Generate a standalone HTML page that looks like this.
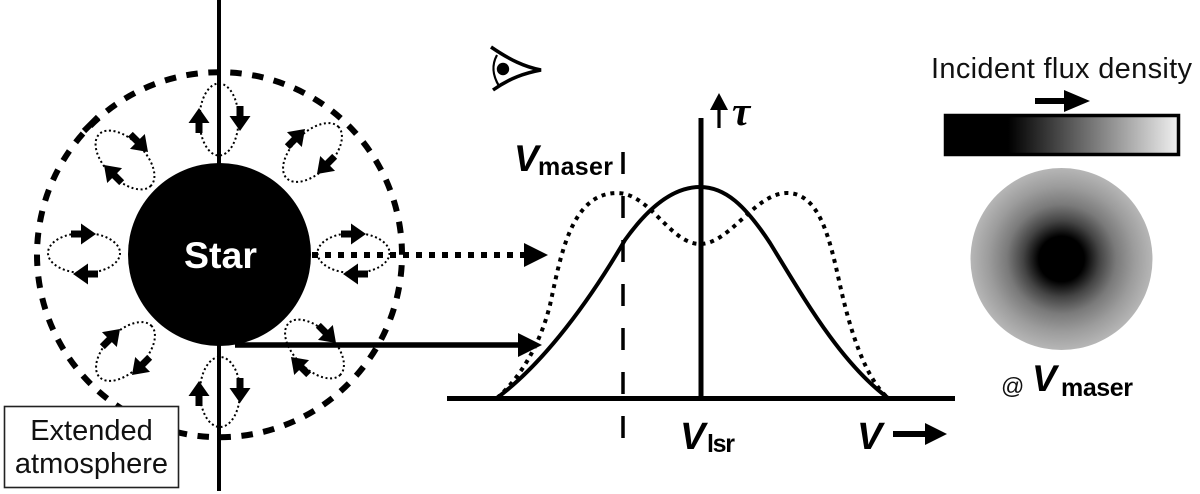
<!DOCTYPE html>
<html><head><meta charset="utf-8"><style>
html,body{margin:0;padding:0;background:#fff;width:1200px;height:494px;overflow:hidden}
svg{display:block}
text{font-family:"Liberation Sans",sans-serif}
.b{font-weight:bold}
.v{font-weight:bold;font-style:italic;font-size:38px}
.s{font-weight:bold;font-size:25px}
.loop{fill:none;stroke:#000;stroke-width:2;stroke-dasharray:2 2.6}
</style></head><body>
<svg width="1200" height="494" viewBox="0 0 1200 494" xmlns="http://www.w3.org/2000/svg">
<defs>
<polygon id="a" points="-25,-3.5 -15,-3.5 -15,-10.5 0,0 -15,10.5 -15,3.5 -25,3.5" fill="#000"/>
<radialGradient id="disc" gradientUnits="userSpaceOnUse" cx="1061.5" cy="259" r="91">
<stop offset="0" stop-color="#000"/><stop offset=".25" stop-color="#000"/><stop offset=".42" stop-color="#444"/><stop offset=".6" stop-color="#7a7a7a"/><stop offset=".8" stop-color="#9c9c9c"/><stop offset="1" stop-color="#b6b6b6"/>
</radialGradient>
<linearGradient id="bar" gradientUnits="userSpaceOnUse" x1="1008" y1="0" x2="1178" y2="0">
<stop offset="0" stop-color="#000"/><stop offset="1" stop-color="#efefef"/>
</linearGradient>
</defs>

<circle cx="219.5" cy="254.7" r="182.5" fill="none" stroke="#000" stroke-width="6" stroke-dasharray="11.5 10.55" stroke-dashoffset="-10.5"/>
<line x1="84" y1="131" x2="98" y2="117" stroke="#000" stroke-width="6"/>
<line x1="219" y1="0" x2="219" y2="491" stroke="#000" stroke-width="4"/>
<circle cx="219.5" cy="254.5" r="91.5" fill="#000"/>

<ellipse class="loop" cx="219" cy="119.5" rx="19.5" ry="36"/>
<ellipse class="loop" cx="220" cy="392" rx="20" ry="35"/>
<ellipse class="loop" cx="84" cy="253" rx="36" ry="20"/>
<ellipse class="loop" cx="353.5" cy="253" rx="36" ry="20"/>
<ellipse class="loop" cx="125" cy="160" rx="36.5" ry="20" transform="rotate(45 125 160)"/>
<ellipse class="loop" cx="312.5" cy="152.5" rx="36.5" ry="20" transform="rotate(-45 312.5 152.5)"/>
<ellipse class="loop" cx="125.5" cy="351.5" rx="36.5" ry="20" transform="rotate(-45 125.5 351.5)"/>
<ellipse class="loop" cx="314.5" cy="349" rx="36.5" ry="20" transform="rotate(45 314.5 349)"/>

<use href="#a" transform="translate(199 108) rotate(-90)"/>
<use href="#a" transform="translate(240 131) rotate(90)"/>
<use href="#a" transform="translate(199 381) rotate(-90)"/>
<use href="#a" transform="translate(240 403) rotate(90)"/>
<use href="#a" transform="translate(148 152) rotate(45)"/>
<use href="#a" transform="translate(104 165) rotate(-135)"/>
<use href="#a" transform="translate(305 129) rotate(-45)"/>
<use href="#a" transform="translate(317 174) rotate(135)"/>
<use href="#a" transform="translate(96 234)"/>
<use href="#a" transform="translate(73 274) rotate(180)"/>
<use href="#a" transform="translate(366 234)"/>
<use href="#a" transform="translate(343 274) rotate(180)"/>
<use href="#a" transform="translate(120 329) rotate(-45)"/>
<use href="#a" transform="translate(132 375) rotate(135)"/>
<use href="#a" transform="translate(336 343) rotate(45)"/>
<use href="#a" transform="translate(291 357) rotate(-135)"/>

<text x="220.5" y="268" text-anchor="middle" class="b" font-size="37.5" fill="#fff">Star</text>

<line x1="312" y1="255" x2="526" y2="255" stroke="#000" stroke-width="6" stroke-dasharray="6 7"/>
<polygon points="524,243 548,255 524,267" fill="#000"/>
<line x1="235" y1="345" x2="520" y2="345" stroke="#000" stroke-width="5.5"/>
<polygon points="518,333 542,345 518,357" fill="#000"/>

<rect x="4.5" y="406.5" width="174" height="81" fill="#fff" stroke="#222" stroke-width="1.6"/>
<text x="91.5" y="440" text-anchor="middle" font-size="29" fill="#111">Extended</text>
<text x="91.5" y="473" text-anchor="middle" font-size="29" fill="#111">atmosphere</text>

<path d="M491,47 C510,60 525,67 541,70 C525,73 510,78 493,90" fill="none" stroke="#000" stroke-width="3.5"/>
<path d="M497,55 C491,66 493,76 499,86" fill="none" stroke="#000" stroke-width="2.2"/>
<circle cx="503" cy="69" r="6.2" fill="#000"/>

<line x1="623" y1="152" x2="623" y2="438" stroke="#000" stroke-width="3.5" stroke-dasharray="22 22"/>
<line x1="447" y1="398.5" x2="955" y2="398.5" stroke="#000" stroke-width="5"/>
<line x1="701" y1="118" x2="701" y2="398" stroke="#000" stroke-width="5"/>
<path d="M497,398 C545,362 590,300 625,240 C650,205 675,187 700,187 C725,187 745,205 770,243 C805,300 840,362 888,398" fill="none" stroke="#000" stroke-width="4"/>
<path d="M497,398 C520,378 540,345 550,305 C560,260 570,193 617,193 C650,193 670,244 700,244 C730,244 755,193 787,193 C820,193 830,240 840,285 C850,330 865,378 888,398" fill="none" stroke="#000" stroke-width="4" stroke-dasharray="4 5"/>

<line x1="719" y1="108" x2="719" y2="128" stroke="#000" stroke-width="3.2"/>
<polygon points="710,110 719,93 728,110" fill="#000"/>
<text x="732" y="125" font-style="italic" font-weight="bold" font-size="41" style="font-family:'Liberation Serif',serif">τ</text>

<text x="514" y="171" class="v" style="font-size:37px">V</text>
<text x="538" y="175" class="s" textLength="75">maser</text>
<text x="680" y="449" class="v">V</text>
<text x="707" y="452" class="s" textLength="28">lsr</text>
<text x="857" y="449" class="v">V</text>
<polygon points="893,431 925,431 925,423 947,434 925,445 925,437 893,437" fill="#000"/>

<text x="931" y="78" font-size="29" fill="#111" textLength="261">Incident flux density</text>
<polygon points="1035,98 1064,98 1064,90 1090,101 1064,112 1064,104 1035,104" fill="#000"/>
<rect x="945.5" y="115.5" width="233" height="39" fill="url(#bar)" stroke="#000" stroke-width="3.5"/>
<circle cx="1061.5" cy="259" r="91" fill="url(#disc)"/>

<text x="1001" y="394" font-size="23" fill="#111">@</text>
<text x="1032" y="391" class="v" style="font-size:37px">V</text>
<text x="1061" y="396" class="s" textLength="72">maser</text>
</svg>
</body></html>
